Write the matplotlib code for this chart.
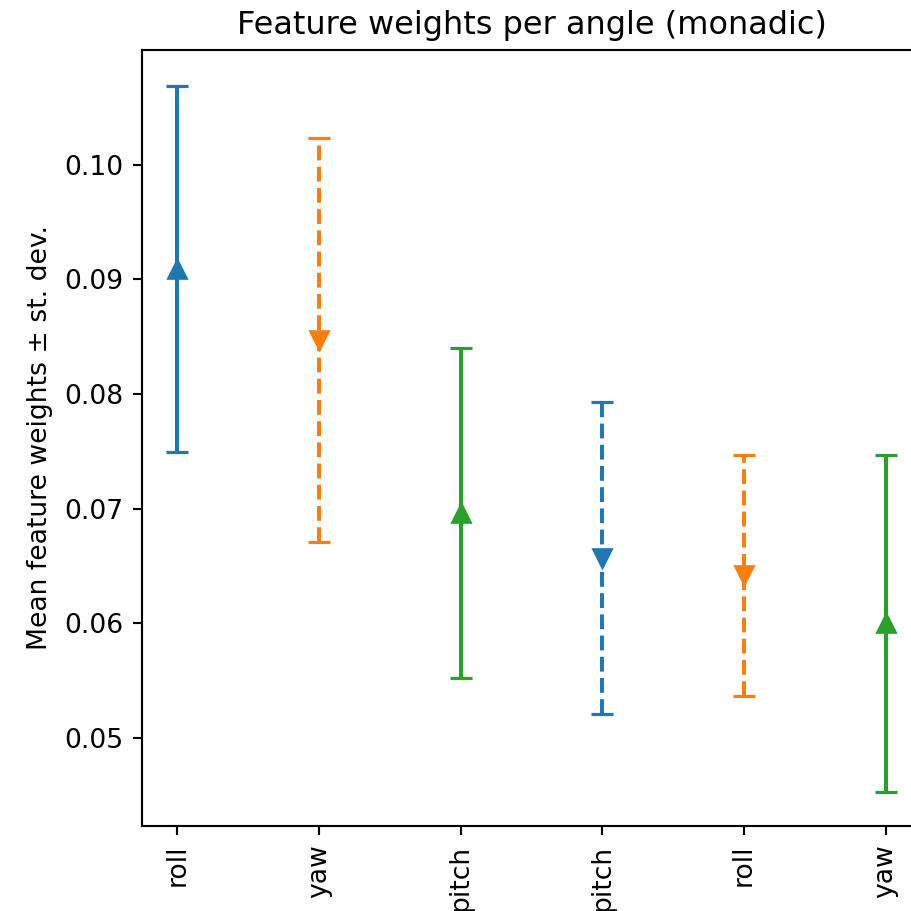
import matplotlib
matplotlib.use("Agg")
import matplotlib.pyplot as plt
import numpy as np

labels = ["roll", "yaw", "pitch", "pitch", "roll", "yaw"]
means = [0.0909, 0.0847, 0.0696, 0.0657, 0.0642, 0.0600]
stds = [0.0160, 0.0176, 0.0144, 0.0136, 0.0105, 0.0147]
colors = ["#1f77b4", "#ff7f0e", "#2ca02c", "#1f77b4", "#ff7f0e", "#2ca02c"]
markers = ["^", "v", "^", "v", "v", "^"]
styles = ["-", "--", "-", "--", "--", "-"]

DPI = 192
fig = plt.figure(figsize=(911/DPI, 911/DPI), dpi=DPI)
ax = fig.add_axes([142/911, 1-826/911, (921-142)/911, (826-50)/911])

x = np.arange(len(labels))
for i in range(len(labels)):
    eb = ax.errorbar(x[i], means[i], yerr=stds[i], fmt=markers[i], color=colors[i],
                     capsize=4, markersize=7, elinewidth=1.5, capthick=1.2)
    eb[-1][0].set_linestyle(styles[i])

ax.set_xticks(x)
ax.set_xticklabels(labels, rotation=90)
ax.set_xlim(-0.25, 5.25)
ax.set_ylim(0.04232, 0.1100)
ax.set_yticks([0.05, 0.06, 0.07, 0.08, 0.09, 0.10])
ax.set_ylabel("Mean feature weights ± st. dev.")
ax.set_title("Feature weights per angle (monadic)")
fig.savefig("out.png", dpi=DPI)
